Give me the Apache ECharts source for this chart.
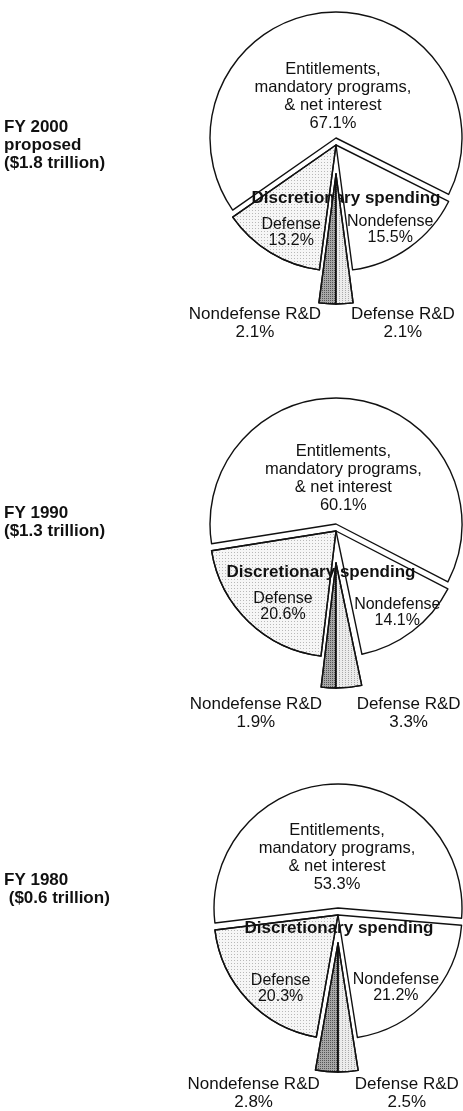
<!DOCTYPE html>
<html lang="en">
<head>
<meta charset="UTF-8">
<title>Federal outlays pies</title>
<script src="https://cdn.jsdelivr.net/npm/echarts@6/dist/echarts.min.js"></script>
<style>html,body{margin:0;padding:0;background:#fff}</style>
</head>
<body>
<div id="chart" style="width:463px;height:1111px;"></div>
<script>
// slices run clockwise starting at 6 o'clock
var sliceNames = ['Nondefense R&D', 'Defense', 'Entitlements', 'Nondefense', 'Defense R&D'];
var fy2000 = [2.1, 13.2, 67.1, 15.5, 2.1];
var fy1990 = [1.9, 20.6, 60.1, 14.1, 3.3];
var fy1980 = [2.8, 20.3, 53.3, 21.2, 2.5];
var yearTitles = ['FY 2000\nproposed\n($1.8 trillion)', 'FY 1990\n($1.3 trillion)', 'FY 1980\n ($0.6 trillion)'];
var groupTitle = 'Discretionary spending';
var entText = 'Entitlements,\nmandatory programs,\n& net interest';

// pieces of the exploded pie (indexes into sliceNames)
var ENT = [2], DISC = [1, 3], RD = [0, 4];
var fills = ['#a8a8a8', '#f6f6f6', '#ffffff', '#ffffff', '#ececec'];
var decals = [
  {symbol: 'rect', symbolSize: 1, dashArrayX: [1, 1], dashArrayY: [1, 1], color: '#555'},
  {symbol: 'rect', symbolSize: 1, dashArrayX: [1, 2], dashArrayY: [1, 2], color: '#b8b8b8'},
  null,
  null,
  {symbol: 'rect', symbolSize: 1, dashArrayX: [1, 2], dashArrayY: [1, 1], color: '#aaa'}
];

// where each pie sits
var pies = [
  {values: fy2000, cx: 336, entCy: 138, discCy: 145, rdCy: 174, r: 126, rdR: 130, rdLen: 20,
   entLab: 39, labCx: 338, labCy: 156, labD: 87, titleY: 118, disc: [346, 198]},
  {values: fy1990, cx: 336, entCy: 524, discCy: 531, rdCy: 563, r: 126, rdR: 125, rdLen: 26,
   entLab: 43, labCx: 344, labCy: 543, labD: 85, titleY: 504, disc: [321, 572]},
  {values: fy1980, cx: 338, entCy: 908, discCy: 915, rdCy: 943, r: 124, rdR: 129, rdLen: 22,
   entLab: 48, labCx: 338, labCy: 934, labD: 76, titleY: 871, disc: [339, 928]}
];

var font = {fontFamily: 'Liberation Sans, Arial, sans-serif', color: '#111'};
function pct(v) { return v.toFixed(1) + '%'; }

function pieSeries(p, center, radius, show, label, drawn, len) {
  return {
    type: 'pie', silent: true, animation: false, z: drawn && show === RD ? 4 : 2,
    center: center, radius: radius,
    startAngle: 270, clockwise: true, avoidLabelOverlap: false,
    emphasis: {disabled: true},
    labelLine: {show: false, length: len || 20, length2: 0},
    data: p.values.map(function (v, i) {
      var on = show.indexOf(i) >= 0;
      var style = {color: 'transparent', borderWidth: 0};
      if (drawn && on) {
        style = {color: fills[i], borderColor: '#111', borderWidth: 1.4};
        if (decals[i]) style.decal = decals[i];
      }
      return {
        name: sliceNames[i], value: v,
        itemStyle: style,
        label: on && label ? label : {show: false}
      };
    })
  };
}

var series = [];
var graphic = [];
pies.forEach(function (p, k) {
  series.push(pieSeries(p, [p.cx, p.entCy], [0, p.r], ENT, null, true));
  series.push(pieSeries(p, [p.cx, p.discCy], [0, p.r], DISC, null, true));
  series.push(pieSeries(p, [p.cx, p.rdCy], [0, p.rdR], RD, Object.assign({
    show: true, position: 'outside', fontSize: 17, lineHeight: 18,
    formatter: function (a) { return '{t|' + a.name + '}\n{t|' + pct(a.value) + '}'; },
    rich: {t: Object.assign({align: 'center', fontSize: 17, lineHeight: 18}, font)}
  }, font), true, p.rdLen));
  // label-only rings
  series.push(pieSeries(p, [p.cx, p.entCy], [0, p.entLab * 2], ENT, Object.assign({
    show: true, position: 'inside', fontSize: 16.5, lineHeight: 18,
    formatter: function (a) { return entText + '\n' + pct(a.value); }
  }, font), false));
  series.push(pieSeries(p, [p.labCx, p.labCy], [p.labD - 30, p.labD + 30], DISC, Object.assign({
    show: true, position: 'inside', fontSize: 16, lineHeight: 16,
    formatter: function (a) { return a.name + '\n' + pct(a.value); }
  }, font), false));

  graphic.push({type: 'text', left: 4, top: p.titleY, silent: true,
    style: {text: yearTitles[k], font: 'bold 17px "Liberation Sans", Arial', fill: '#111', lineHeight: 18}});
  graphic.push({type: 'text', x: p.disc[0], y: p.disc[1], silent: true, z: 3,
    style: {text: groupTitle, font: 'bold 17px "Liberation Sans", Arial', fill: '#111',
      align: 'center', verticalAlign: 'middle'}});
});

var chart = echarts.init(document.getElementById('chart'));
chart.setOption({
  backgroundColor: '#fff',
  animation: false,
  series: series,
  graphic: graphic
});
</script>
</body>
</html>
